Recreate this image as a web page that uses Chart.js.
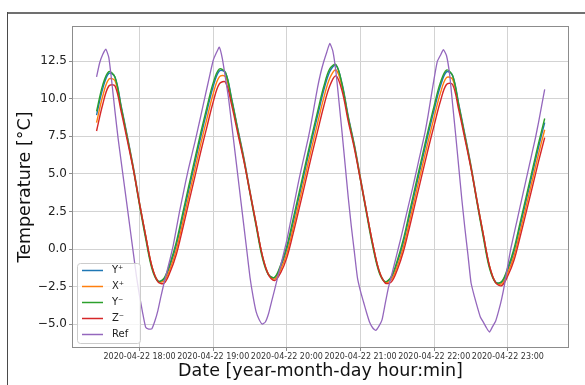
<!DOCTYPE html>
<html>
<head>
<meta charset="utf-8">
<script src="https://cdn.jsdelivr.net/npm/chart.js@4.4.1/dist/chart.umd.min.js"></script>
<style>
  html, body { margin: 0; padding: 0; background: #fff; overflow: hidden; }
  #chart { display: block; }
</style>
</head>
<body>
<canvas id="chart" width="585" height="385"></canvas>
<script>
// sensor log, minutes after 2020-04-22 17:00, one sample every 5 min
const sensorTimes = [25, 30, 35, 40, 45, 50, 55, 60, 65, 70, 75, 80, 85, 90, 95, 100, 105, 110, 115, 120,
  125, 130, 135, 140, 145, 150, 155, 160, 165, 170, 175, 180, 185, 190, 195, 200, 205, 210, 215, 220,
  225, 230, 235, 240, 245, 250, 255, 260, 265, 270, 275, 280, 285, 290, 295, 300, 305, 310, 315, 320,
  325, 330, 335, 340, 345, 350, 355, 360, 365, 370, 375, 380, 385, 390];

const yPlus = [8.90, 10.65, 11.68, 11.44, 9.54, 7.53, 5.43, 3.07, 0.86, -1.16,
  -2.11, -2.01, -1.06, 0.26, 2.06, 3.89, 5.70, 7.50, 9.20, 10.81,
  11.84, 11.73, 10.02, 8.02, 6.06, 3.83, 1.66, -0.44, -1.66, -1.91,
  -1.17, 0.00, 1.71, 3.51, 5.32, 7.13, 8.85, 10.53, 11.81, 12.22,
  10.99, 8.84, 6.94, 4.71, 2.46, 0.30, -1.42, -2.16, -1.91, -0.90,
  0.47, 2.24, 4.04, 5.83, 7.60, 9.27, 10.82, 11.78, 11.54, 9.65,
  7.62, 5.53, 3.18, 0.94, -1.15, -2.19, -2.21, -1.37, -0.18, 1.53,
  3.26, 5.01, 6.77, 8.41];

const xPlus = [8.40, 10.16, 11.30, 11.19, 9.38, 7.42, 5.37, 3.06, 0.89, -1.13,
  -2.13, -2.13, -1.28, -0.04, 1.69, 3.48, 5.26, 7.03, 8.71, 10.33,
  11.45, 11.46, 9.85, 7.90, 5.98, 3.80, 1.67, -0.42, -1.67, -2.00,
  -1.37, -0.28, 1.35, 3.11, 4.88, 6.66, 8.36, 10.03, 11.37, 11.91,
  10.79, 8.70, 6.84, 4.67, 2.46, 0.33, -1.41, -2.20, -2.05, -1.13,
  0.16, 1.87, 3.63, 5.39, 7.13, 8.78, 10.35, 11.40, 11.29, 9.49,
  7.51, 5.47, 3.17, 0.97, -1.12, -2.21, -2.31, -1.57, -0.46, 1.18,
  2.87, 4.59, 6.32, 7.93];

const yMinus = [9.15, 10.90, 11.80, 11.42, 9.44, 7.41, 5.29, 2.91, 0.70, -1.28,
  -2.15, -1.94, -0.91, 0.48, 2.32, 4.16, 5.98, 7.78, 9.47, 11.05,
  11.97, 11.73, 9.93, 7.91, 5.93, 3.68, 1.51, -0.57, -1.72, -1.88,
  -1.04, 0.20, 1.96, 3.77, 5.59, 7.41, 9.13, 10.79, 11.99, 12.26,
  10.92, 8.73, 6.82, 4.56, 2.30, 0.16, -1.52, -2.18, -1.83, -0.74,
  0.69, 2.50, 4.31, 6.10, 7.87, 9.54, 11.05, 11.90, 11.52, 9.55,
  7.50, 5.39, 3.02, 0.78, -1.27, -2.23, -2.16, -1.23, 0.02, 1.77,
  3.51, 5.28, 7.04, 8.68];

const zMinus = [7.85, 9.61, 10.84, 10.85, 9.15, 7.24, 5.26, 3.01, 0.88, -1.13,
  -2.18, -2.27, -1.51, -0.35, 1.30, 3.05, 4.78, 6.52, 8.16, 9.78,
  10.98, 11.10, 9.59, 7.70, 5.84, 3.73, 1.64, -0.42, -1.71, -2.10,
  -1.57, -0.57, 0.99, 2.69, 4.42, 6.16, 7.82, 9.48, 10.85, 11.51,
  10.50, 8.49, 6.68, 4.57, 2.42, 0.32, -1.42, -2.25, -2.20, -1.37,
  -0.15, 1.48, 3.20, 4.91, 6.62, 8.24, 9.81, 10.94, 10.94, 9.25,
  7.33, 5.35, 3.12, 0.96, -1.11, -2.24, -2.43, -1.78, -0.75, 0.82,
  2.47, 4.14, 5.83, 7.41];

// reference probe, sampled every 2.5 min
const refTimes = [25, 27.5, 30, 32.5, 35, 37.5, 40, 42.5, 45, 47.5,
  50, 52.5, 55, 57.5, 60, 62.5, 65, 67.5, 70, 72.5,
  75, 77.5, 80, 82.5, 85, 87.5, 90, 92.5, 95, 97.5,
  100, 102.5, 105, 107.5, 110, 112.5, 115, 117.5, 120, 122.5,
  125, 127.5, 130, 132.5, 135, 137.5, 140, 142.5, 145, 147.5,
  150, 152.5, 155, 157.5, 160, 162.5, 165, 167.5, 170, 172.5,
  175, 177.5, 180, 182.5, 185, 187.5, 190, 192.5, 195, 197.5,
  200, 202.5, 205, 207.5, 210, 212.5, 215, 217.5, 220, 222.5,
  225, 227.5, 230, 232.5, 235, 237.5, 240, 242.5, 245, 247.5,
  250, 252.5, 255, 257.5, 260, 262.5, 265, 267.5, 270, 272.5,
  275, 277.5, 280, 282.5, 285, 287.5, 290, 292.5, 295, 297.5,
  300, 302.5, 305, 307.5, 310, 312.5, 315, 317.5, 320, 322.5,
  325, 327.5, 330, 332.5, 335, 337.5, 340, 342.5, 345, 347.5,
  350, 352.5, 355, 357.5, 360, 362.5, 365, 367.5, 370, 372.5,
  375, 377.5, 380, 382.5, 385, 387.5, 390];

const refValues = [11.44, 12.37, 12.93, 13.30, 12.73, 11.04, 9.15, 7.39, 5.85, 4.32,
  2.79, 1.25, -0.29, -1.82, -3.11, -4.22, -5.20, -5.32, -5.31, -4.79,
  -4.08, -3.13, -2.25, -1.44, -0.62, 0.26, 1.36, 2.45, 3.45, 4.45,
  5.38, 6.23, 7.08, 7.97, 8.89, 9.82, 10.74, 11.67, 12.54, 13.03,
  13.42, 12.65, 11.36, 10.03, 8.33, 6.63, 4.93, 3.22, 1.52, -0.18,
  -1.89, -3.16, -4.18, -4.70, -4.99, -4.85, -4.32, -3.51, -2.71, -1.89,
  -1.08, -0.26, 0.59, 1.61, 2.63, 3.65, 4.67, 5.60, 6.50, 7.41,
  8.45, 9.60, 10.74, 11.69, 12.45, 13.09, 13.67, 13.15, 11.77, 9.76,
  7.71, 5.57, 3.43, 1.51, -0.21, -1.92, -2.82, -3.54, -4.25, -4.89,
  -5.25, -5.41, -5.13, -4.71, -3.68, -2.65, -1.84, -1.03, -0.21, 0.61,
  1.48, 2.35, 3.22, 4.09, 4.99, 5.91, 6.82, 7.74, 8.87, 10.13,
  11.36, 12.46, 12.87, 13.25, 12.87, 11.66, 9.63, 7.58, 5.45, 3.31,
  1.38, -0.39, -2.24, -3.08, -3.81, -4.50, -4.86, -5.23, -5.52, -5.16,
  -4.80, -4.11, -3.29, -2.26, -1.04, 0.07, 0.99, 1.91, 2.83, 3.75,
  4.66, 5.58, 6.49, 7.40, 8.43, 9.52, 10.61];

const seriesLabels = ['Y\u207A', 'X\u207A', 'Y\u207B', 'Z\u207B', 'Ref'];
const seriesColors = ['#1f77b4', '#ff7f0e', '#2ca02c', '#d62728', '#9467bd'];

const xTickMinutes = [60, 120, 180, 240, 300, 360];
const xTickLabels = ['2020-04-22 18:00', '2020-04-22 19:00', '2020-04-22 20:00',
  '2020-04-22 21:00', '2020-04-22 22:00', '2020-04-22 23:00'];
const yTickValues = [-5, -2.5, 0, 2.5, 5, 7.5, 10, 12.5];

const FONT = 'DejaVu Sans';

function toPoints(times, values) {
    return values.map((v, i) => ({ x: times[i], y: v }));
}

// grey page frame behind the figure (top and left edges only are visible)
const pageFrame = {
    id: 'pageFrame',
    beforeDraw(chart) {
        const ctx = chart.ctx;
        ctx.save();
        ctx.fillStyle = '#707070';
        ctx.fillRect(7, 12, chart.width - 7, 2);
        ctx.fillStyle = '#4a4a4a';
        ctx.fillRect(7, 12, 1, chart.height - 12);
        ctx.restore();
    }
};

// four spines around the axes, drawn over the lines
const axesFrame = {
    id: 'axesFrame',
    afterDatasetsDraw(chart) {
        const ctx = chart.ctx;
        const a = chart.chartArea;
        ctx.save();
        ctx.strokeStyle = '#8c8c8c';
        ctx.lineWidth = 1;
        ctx.strokeRect(Math.round(a.left) + 0.5, Math.round(a.top) + 0.5,
            Math.round(a.right - a.left) - 1, Math.round(a.bottom - a.top) - 1);
        ctx.restore();
    }
};

// matplotlib-style legend in the lower left corner of the axes
const insideLegend = {
    id: 'insideLegend',
    afterDraw(chart) {
        const ctx = chart.ctx;
        const area = chart.chartArea;
        const boxW = 63, boxH = 80;
        const x0 = Math.round(area.left + 5);
        const y0 = Math.round(area.bottom - 5 - boxH);
        ctx.save();
        ctx.beginPath();
        if (ctx.roundRect) ctx.roundRect(x0 + 0.5, y0 + 0.5, boxW, boxH, 3);
        else ctx.rect(x0 + 0.5, y0 + 0.5, boxW, boxH);
        ctx.fillStyle = 'rgba(255,255,255,0.8)';
        ctx.fill();
        ctx.strokeStyle = '#cccccc';
        ctx.lineWidth = 1;
        ctx.stroke();

        ctx.font = '10px "' + FONT + '"';
        ctx.textBaseline = 'middle';
        seriesLabels.forEach((label, i) => {
            const y = y0 + 7.5 + i * 16;
            ctx.beginPath();
            ctx.moveTo(x0 + 5, y);
            ctx.lineTo(x0 + 26, y);
            ctx.strokeStyle = seriesColors[i];
            ctx.lineWidth = 1.5;
            ctx.stroke();
            ctx.fillStyle = '#222';
            ctx.fillText(label, x0 + 35, y);
        });
        ctx.restore();
    }
};

const seriesValues = [yPlus, xPlus, yMinus, zMinus];

const datasets = seriesValues.map((vals, i) => ({
    label: seriesLabels[i],
    data: toPoints(sensorTimes, vals),
    borderColor: seriesColors[i],
    borderWidth: 1.4,
    pointRadius: 0,
    tension: 0.35,
    fill: false,
    order: 5 - i
}));

datasets.push({
    label: seriesLabels[4],
    data: toPoints(refTimes, refValues),
    borderColor: seriesColors[4],
    borderWidth: 1.3,
    pointRadius: 0,
    tension: 0.15,
    fill: false,
    order: 1
});

window.addEventListener('load', function() {
    new Chart(document.getElementById('chart'), {
        type: 'line',
        data: { datasets: datasets },
        plugins: [pageFrame, axesFrame, insideLegend],
        options: {
            responsive: false,
            animation: false,
            devicePixelRatio: 1,
            layout: { padding: { left: 0, top: 26, right: 16, bottom: 0 } },
            plugins: {
                legend: { display: false },
                tooltip: { enabled: false }
            },
            scales: {
                x: {
                    type: 'linear',
                    min: 5.0,
                    max: 409.8,
                    afterBuildTicks: s => { s.ticks = xTickMinutes.map(v => ({ value: v })); },
                    afterFit: s => { s.height = 37; },
                    ticks: {
                        autoSkip: false,
                        maxRotation: 0,
                        minRotation: 0,
                        padding: 1,
                        color: '#333',
                        font: { family: FONT, size: 8 },
                        callback: v => xTickLabels[xTickMinutes.indexOf(v)]
                    },
                    grid: { color: '#d3d3d3', lineWidth: 1, tickLength: 3, tickColor: '#8c8c8c' },
                    border: { display: false },
                    title: {
                        display: true,
                        text: 'Date [year-month-day hour:min]',
                        color: '#111',
                        font: { family: FONT, size: 17.5 },
                        padding: { top: 0, bottom: 3 }
                    }
                },
                y: {
                    min: -6.58,
                    max: 14.83,
                    afterBuildTicks: s => { s.ticks = yTickValues.map(v => ({ value: v })); },
                    afterFit: s => { s.width = 72; },
                    ticks: {
                        padding: 2,
                        color: '#222',
                        font: { family: FONT, size: 12 },
                        callback: v => (v < 0 ? '\u2212' : '') + Math.abs(v).toFixed(1)
                    },
                    grid: { color: '#d3d3d3', lineWidth: 1, tickLength: 3, tickColor: '#8c8c8c' },
                    border: { display: false },
                    title: {
                        display: true,
                        text: 'Temperature [°C]',
                        color: '#111',
                        font: { family: FONT, size: 17.5 },
                        padding: { top: 14.5, bottom: 0 }
                    }
                }
            }
        }
    });
});
</script>
</body>
</html>
